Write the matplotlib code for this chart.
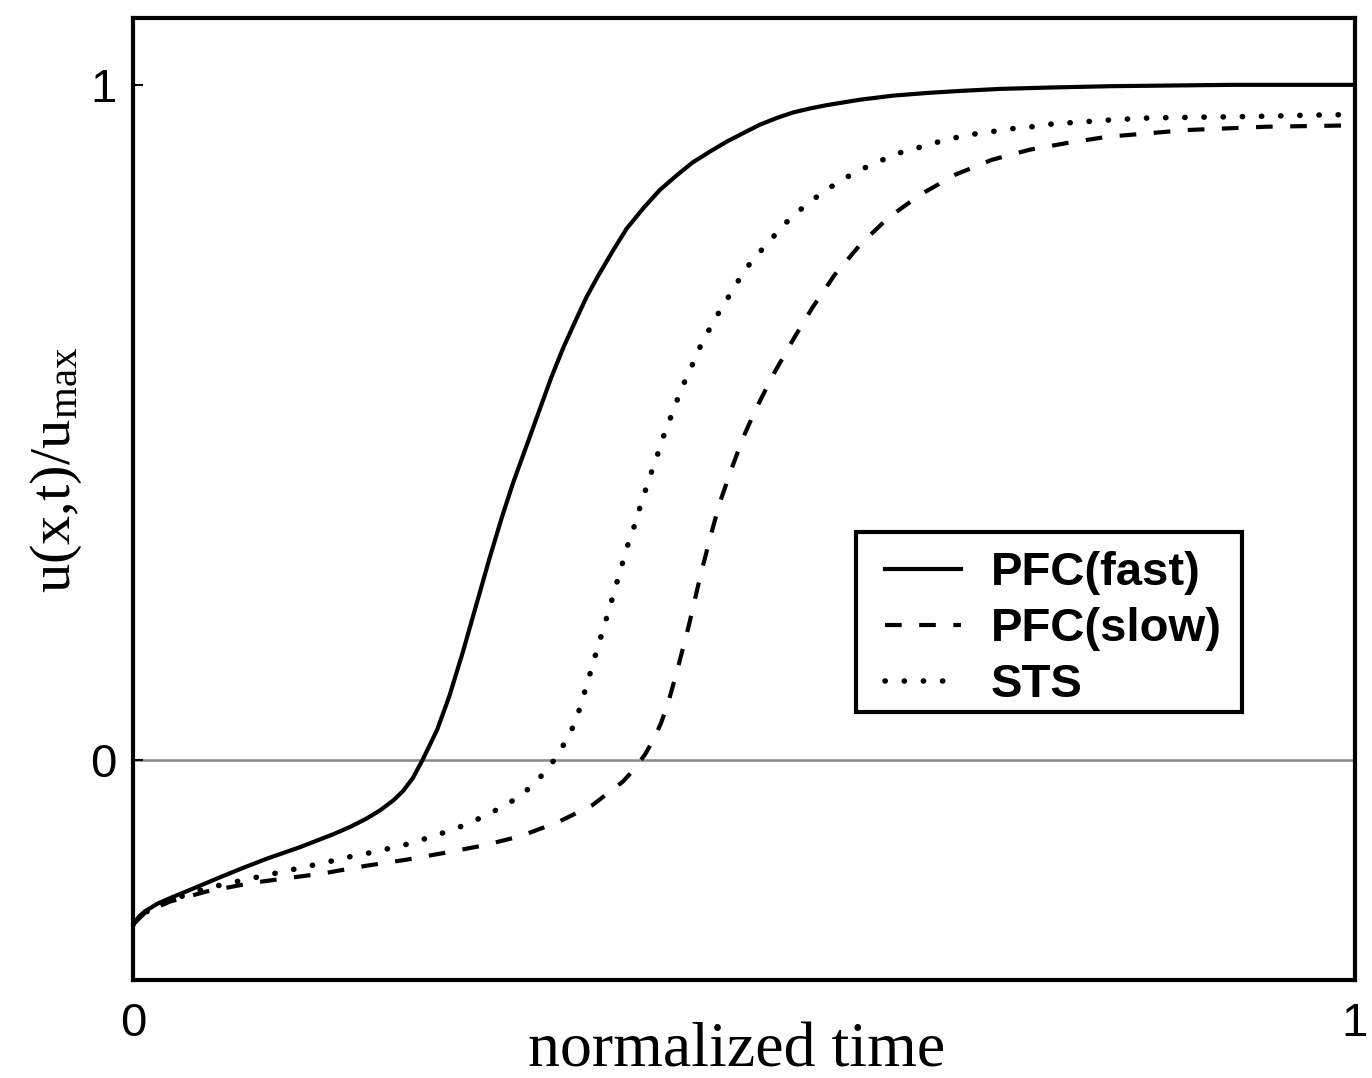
import matplotlib.pyplot as plt
from matplotlib.patches import Rectangle

# valores (tempo normalizado, u/umax)
x_fast = [0, 0.005, 0.01, 0.02, 0.03, 0.05, 0.071, 0.09, 0.11, 0.137, 0.164, 0.178,
          0.191, 0.202, 0.213, 0.221, 0.229, 0.237, 0.249, 0.259, 0.27, 0.281, 0.292,
          0.302, 0.311, 0.321, 0.331, 0.342, 0.352, 0.362, 0.371, 0.38, 0.393, 0.404,
          0.418, 0.431, 0.445, 0.458, 0.472, 0.486, 0.50, 0.513, 0.527, 0.54, 0.554,
          0.568, 0.595, 0.622, 0.65, 0.677, 0.71, 0.75, 0.8, 0.85, 0.9, 1.0]
y_fast = [-0.244, -0.232, -0.224, -0.213, -0.205, -0.19, -0.174, -0.16, -0.146, -0.129,
          -0.110, -0.099, -0.087, -0.075, -0.060, -0.046, -0.027, 0.0, 0.045, 0.095,
          0.16, 0.23, 0.30, 0.36, 0.41, 0.46, 0.51, 0.565, 0.61, 0.65, 0.685, 0.715,
          0.755, 0.787, 0.818, 0.844, 0.866, 0.885, 0.901, 0.916, 0.929, 0.941, 0.951,
          0.959, 0.965, 0.970, 0.978, 0.984, 0.988, 0.991, 0.994, 0.996, 0.998, 0.999,
          1.0, 1.0]

x_slow = [0, 0.01, 0.03, 0.06, 0.098, 0.156, 0.19, 0.223, 0.254, 0.286, 0.317, 0.348,
          0.376, 0.401, 0.411, 0.419, 0.426, 0.432, 0.438, 0.445, 0.455, 0.464, 0.472,
          0.48, 0.49, 0.499, 0.509, 0.519, 0.525, 0.54, 0.556, 0.574, 0.595, 0.618,
          0.644, 0.673, 0.703, 0.734, 0.765, 0.797, 0.862, 0.928, 1.0]
y_slow = [-0.244, -0.226, -0.210, -0.195, -0.182, -0.168, -0.157, -0.148, -0.138, -0.127,
          -0.113, -0.092, -0.067, -0.032, -0.012, 0.008, 0.030, 0.054, 0.085, 0.13, 0.20,
          0.27, 0.327, 0.38, 0.432, 0.476, 0.517, 0.553, 0.574, 0.622, 0.67, 0.718,
          0.763, 0.803, 0.837, 0.867, 0.889, 0.904, 0.914, 0.923, 0.933, 0.938, 0.940]

x_sts = [0, 0.01, 0.03, 0.06, 0.098, 0.137, 0.152, 0.167, 0.183, 0.199, 0.214, 0.229,
         0.245, 0.261, 0.276, 0.29, 0.304, 0.318, 0.33, 0.341, 0.35, 0.358, 0.364, 0.372,
         0.38, 0.39, 0.40, 0.405, 0.41, 0.415, 0.42, 0.425, 0.43, 0.435, 0.441, 0.447,
         0.453, 0.46, 0.466, 0.474, 0.482, 0.491, 0.499, 0.509, 0.52, 0.53, 0.542, 0.555,
         0.567, 0.581, 0.595, 0.61, 0.625, 0.641, 0.656, 0.671, 0.688, 0.704, 0.719,
         0.736, 0.752, 0.768, 0.8, 0.832, 0.87, 0.914, 0.96, 1.0]
y_sts = [-0.244, -0.226, -0.208, -0.19, -0.175, -0.16, -0.154, -0.148, -0.141, -0.136,
         -0.129, -0.123, -0.113, -0.104, -0.093, -0.081, -0.068, -0.052, -0.032, -0.010,
         0.015, 0.040, 0.067, 0.115, 0.165, 0.225, 0.288, 0.319, 0.345, 0.375, 0.403,
         0.430, 0.456, 0.484, 0.512, 0.541, 0.567, 0.594, 0.620, 0.645, 0.671, 0.696,
         0.721, 0.745, 0.766, 0.788, 0.809, 0.828, 0.844, 0.860, 0.874, 0.886, 0.898,
         0.906, 0.914, 0.921, 0.927, 0.931, 0.935, 0.938, 0.942, 0.944, 0.948, 0.951,
         0.952, 0.953, 0.955, 0.956]

labels = ['PFC(fast)', 'PFC(slow)', 'STS']

plt.rcParams['mathtext.fontset'] = 'stix'

fig = plt.figure(figsize=(13.72, 10.78), dpi=100)
ax = fig.add_axes([0.0969, 0.0909, 0.8907, 0.8924])

ax.axhline(0, color='#888888', lw=1.8, zorder=1)

ax.plot(x_fast, y_fast, color='black', lw=3, linestyle='-', label=labels[0])
ax.plot(x_slow, y_slow, color='black', lw=3, linestyle=(0, (4, 4.2)), label=labels[1])
ax.plot(x_sts, y_sts, color='black', lw=4, linestyle=(0, (0.05, 3.4)),
        dash_capstyle='round', label=labels[2])

ax.set_xlim(0, 1)
ax.set_ylim(-0.326, 1.099)
ax.set_xticks([0, 1])
ax.set_yticks([0, 1])
ax.set_xticklabels(['0', '1'], fontfamily='Liberation Sans', fontsize=34)
ax.set_yticklabels(['0', '1'], fontfamily='Liberation Sans', fontsize=34)
ax.tick_params(direction='in', length=7, width=1.5, pad=12)
ax.tick_params(axis='x', pad=16)

for s in ax.spines.values():
    s.set_linewidth(3)

ax.set_xlabel('normalized time', fontfamily='Liberation Serif', fontsize=46)
ax.xaxis.set_label_coords(0.494, -0.044)
ax.set_ylabel(r'u(x,t)/u$_{\mathregular{max}}$', fontfamily='Liberation Serif', fontsize=42)
ax.yaxis.set_label_coords(-0.04, 0.53)

# moldura da legenda desenhada a parte
frame = Rectangle((0.592, 0.2786), 0.3155, 0.1871, transform=ax.transAxes,
                  facecolor='white', edgecolor='black', lw=3, zorder=4)
ax.add_patch(frame)
leg = ax.legend(loc='upper left', bbox_to_anchor=(0.6154, 0.4455), borderaxespad=0,
                frameon=False, borderpad=0,
                prop={'family': 'Liberation Sans', 'weight': 'bold', 'size': 34},
                handlelength=1.6, handletextpad=0.64, labelspacing=0.25)
leg.set_zorder(5)

plt.savefig('out.png', dpi=100)
